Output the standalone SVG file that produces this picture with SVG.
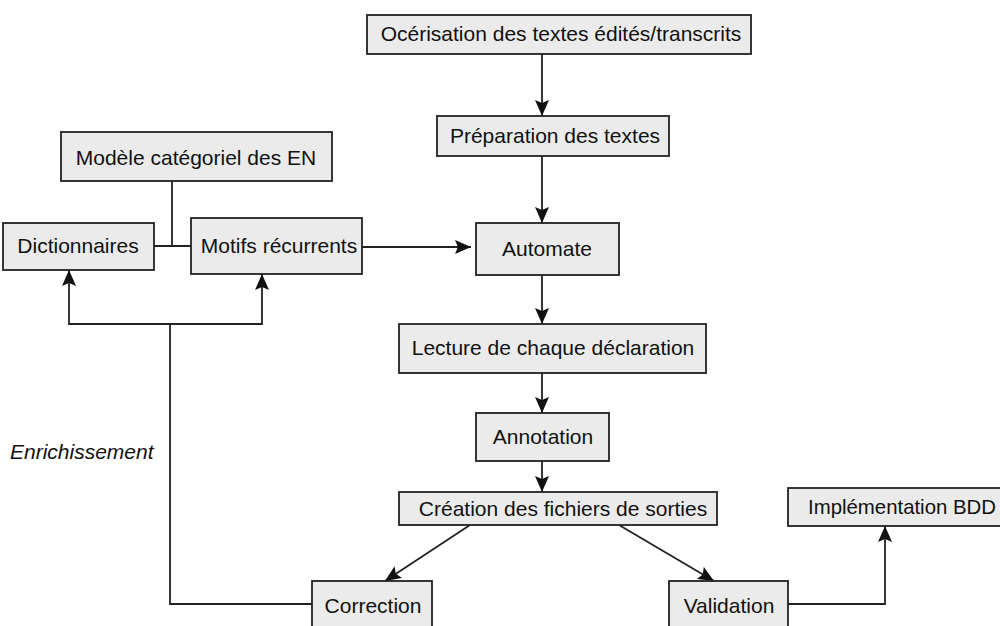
<svg xmlns="http://www.w3.org/2000/svg" width="1000" height="626" viewBox="0 0 1000 626">
<style>
.box{fill:#ebebeb;stroke:#222;stroke-width:1.8}
.t{font-family:"Liberation Sans",Arial,sans-serif;font-size:21px;fill:#111;text-anchor:middle}
.c{fill:none;stroke:#222;stroke-width:1.8}
</style>
<defs>
<marker id="ah" viewBox="0 0 16 14" refX="16" refY="7" markerWidth="16" markerHeight="14" markerUnits="userSpaceOnUse" orient="auto">
<path d="M0,0 L16,7 L0,14 L3,7 z" fill="#111"/>
</marker>
</defs>
<rect width="1000" height="626" fill="#fff"/>
<g id="connectors">
<line class="c" x1="542" y1="54" x2="542" y2="116" marker-end="url(#ah)"/>
<line class="c" x1="542" y1="156" x2="542" y2="223" marker-end="url(#ah)"/>
<line class="c" x1="542" y1="275" x2="542" y2="324" marker-end="url(#ah)"/>
<line class="c" x1="542" y1="373" x2="542" y2="413" marker-end="url(#ah)"/>
<line class="c" x1="542" y1="461" x2="542" y2="492" marker-end="url(#ah)"/>
<line class="c" x1="362" y1="247" x2="471" y2="247" marker-end="url(#ah)"/>
<polyline class="c" points="172,181 172,246"/>
<line class="c" x1="154" y1="246" x2="191" y2="246"/>
<line class="c" x1="470" y1="525" x2="385" y2="581" marker-end="url(#ah)"/>
<line class="c" x1="619" y1="525" x2="714" y2="581" marker-end="url(#ah)"/>
<polyline class="c" points="788,604 885,604 885,526" marker-end="url(#ah)"/>
<polyline class="c" points="312,604 170,604 170,324"/>
<polyline class="c" points="170,324 69,324 69,270" marker-end="url(#ah)"/>
<polyline class="c" points="170,324 262,324 262,274" marker-end="url(#ah)"/>
</g>
<g id="n-ocr"><rect class="box" x="367" y="15" width="384" height="39"/><text class="t" x="561" y="41">Océrisation des textes édités/transcrits</text></g>
<g id="n-prep"><rect class="box" x="437" y="116" width="232" height="40"/><text class="t" x="555" y="143">Préparation des textes</text></g>
<g id="n-modele"><rect class="box" x="61" y="132" width="271" height="49"/><text class="t" x="196" y="165">Modèle catégoriel des EN</text></g>
<g id="n-dict"><rect class="box" x="3" y="223" width="151" height="47"/><text class="t" x="78" y="253">Dictionnaires</text></g>
<g id="n-motifs"><rect class="box" x="191" y="218" width="171" height="56"/><text class="t" x="279" y="253">Motifs récurrents</text></g>
<g id="n-auto"><rect class="box" x="476" y="223" width="143" height="52"/><text class="t" x="547" y="256">Automate</text></g>
<g id="n-lecture"><rect class="box" x="399" y="324" width="307" height="49"/><text class="t" x="553" y="355">Lecture de chaque déclaration</text></g>
<g id="n-annot"><rect class="box" x="476" y="413" width="133" height="48"/><text class="t" x="543" y="444">Annotation</text></g>
<g id="n-creation"><rect class="box" x="399" y="492" width="318" height="33"/><text class="t" x="563" y="516">Création des fichiers de sorties</text></g>
<g id="n-impl"><rect class="box" x="788" y="488" width="230" height="38"/><text class="t" x="808" y="514" textLength="188" lengthAdjust="spacingAndGlyphs" style="text-anchor:start">Implémentation BDD</text></g>
<g id="n-corr"><rect class="box" x="312" y="581" width="120" height="60"/><text class="t" x="373" y="613">Correction</text></g>
<g id="n-valid"><rect class="box" x="669" y="581" width="119" height="60"/><text class="t" x="729" y="613">Validation</text></g>
<text class="t" x="10" y="459" style="text-anchor:start;font-style:italic">Enrichissement</text>
</svg>
